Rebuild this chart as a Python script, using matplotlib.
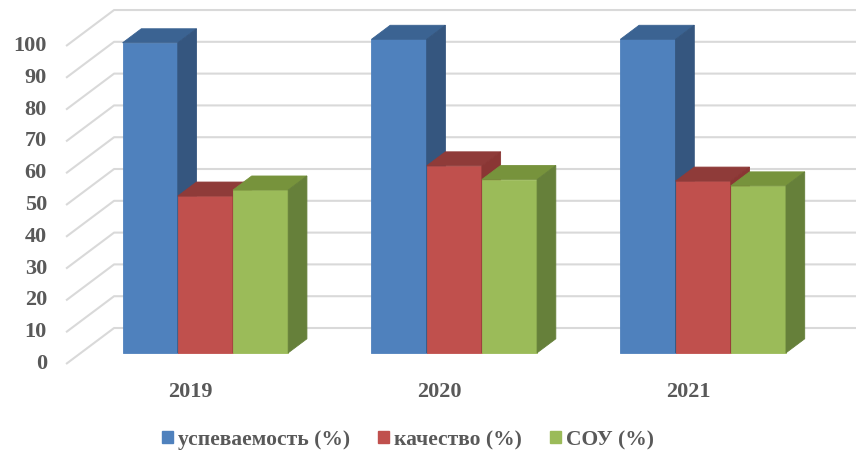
import matplotlib
matplotlib.use('Agg')
import matplotlib.pyplot as plt
from matplotlib.patches import Polygon, Patch

# data
years = ['2019', '2020', '2021']
uspevaemost = [97.5, 98.6, 98.6]
kachestvo = [49.3, 58.8, 54.0]
sou = [51.2, 54.5, 52.5]
series_names = ['успеваемость (%)', 'качество (%)', 'СОУ (%)']
y_ticks = list(range(0, 101, 10))

# front / top / side colours of each series
palette = [('#4F81BD', '#3B6392', '#35567F'),
           ('#C0504D', '#8F3B39', '#8A3634'),
           ('#9BBB59', '#77933C', '#66803A')]

plt.rcParams['font.family'] = ['Liberation Serif', 'DejaVu Serif']
text_kw = dict(fontsize=16, fontweight='bold', color='#595959')

# fake 3d: depth of the side wall expressed in data units
DX, DV = 0.1929, 11.32
BW = 0.2218          # bar width (category units)
D0, D1 = 0.31, 0.70  # front and back of the bars, as fraction of depth
wall_left = -0.5

fig = plt.figure(figsize=(8.56, 4.62), dpi=100)
ax = fig.add_axes([0, 0, 1, 1])
ax.set_xlim(-0.7654, 2.6738)
ax.set_ylim(-30.82, 114.47)
ax.axis('off')

xmax = ax.get_xlim()[1]
for t in y_ticks:
    ax.plot([wall_left, wall_left + DX, xmax], [t, t + DV, t + DV],
            color='#D9D9D9', lw=1.5, zorder=1, solid_capstyle='butt')
    ax.text(wall_left - 0.077, t, str(t), ha='right', va='center', **text_kw)


def draw_bar(x, h, cols):
    x0, v0 = x + D0 * DX, D0 * DV
    ddx, ddv = (D1 - D0) * DX, (D1 - D0) * DV
    front = [(x0, v0), (x0 + BW, v0), (x0 + BW, v0 + h), (x0, v0 + h)]
    top = [(x0, v0 + h), (x0 + BW, v0 + h),
           (x0 + BW + ddx, v0 + h + ddv), (x0 + ddx, v0 + h + ddv)]
    side = [(x0 + BW, v0), (x0 + BW + ddx, v0 + ddv),
            (x0 + BW + ddx, v0 + h + ddv), (x0 + BW, v0 + h)]
    for pts, c in zip([front, top, side], cols):
        ax.add_patch(Polygon(pts, closed=True, facecolor=c, edgecolor=c,
                             lw=0.6, zorder=3))


all_series = [uspevaemost, kachestvo, sou]
for i, year in enumerate(years):
    for j, vals in enumerate(all_series):
        draw_bar(i + (j - 1.5) * BW, vals[i], palette[j])
    ax.text(i, -8.8, year, ha='center', va='center', **text_kw)

handles = [Patch(facecolor=c[0], edgecolor=c[0]) for c in palette]
leg = fig.legend(handles, series_names, loc='center',
                 bbox_to_anchor=(408 / 856, 1 - 440 / 462), ncol=3,
                 frameon=False, handlelength=0.5, handleheight=0.5,
                 handletextpad=0.25, columnspacing=1.3,
                 prop=dict(size=15.5, weight='bold'))
for t in leg.get_texts():
    t.set_color('#595959')

fig.savefig('out.png', dpi=100)
